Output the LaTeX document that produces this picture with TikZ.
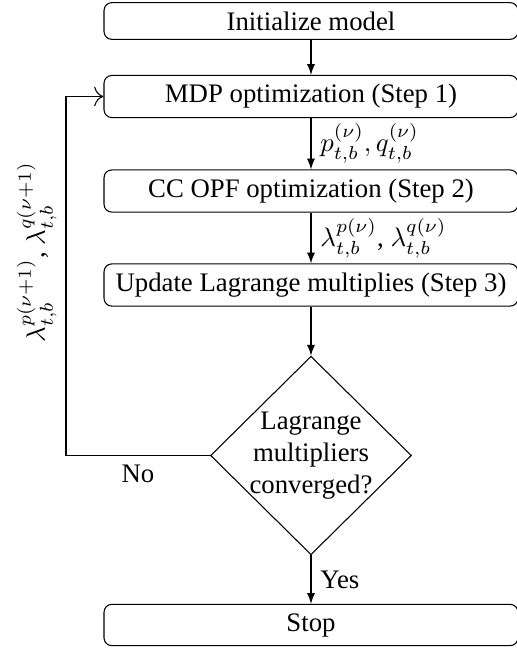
\documentclass[tikz,border=0pt]{standalone}
\usepackage{fontspec}
\setmainfont{Liberation Serif}
\usetikzlibrary{arrows, arrows.meta, shapes.geometric}

\begin{document}
\begin{tikzpicture}[x=0.3737pt, y=-0.3737pt]
        \tikzset{stepbox/.style={draw, rounded corners=2.9pt, minimum width=154.7pt},
            check/.style={draw, diamond, aspect=1, align=center, inner sep=-1.1pt, minimum width=75.1pt},
            flow/.style={-latex}}

        \useasboundingbox (0, 0) rectangle (517, 649);

        \node[stepbox] (init) at (311, 21) {Initialize model};
        \node[stepbox] (mdp) at (311, 96.5) {MDP optimization (Step 1)};
        \node[stepbox] (opf) at (311, 191) {CC OPF optimization (Step 2)};
        \node[stepbox] (upd) at (311, 285) {Update Lagrange multiplies (Step 3)};
        \node[check] (conv) at (311, 455.5) {Lagrange\\multipliers\\converged?};
        \node[stepbox] (stop) at (311, 625) {Stop};
        \coordinate (back) at (66, 455.5);

        \foreach \from/\to in {init/mdp, upd/conv}
            \draw[flow] (\from) -- (\to);

        \draw[flow] (mdp) -- node[right] {$p_{t,b}^{(\nu)},q_{t,b}^{(\nu)}$} (opf);
        \draw[flow] (opf) -- node[right] {$\lambda_{t,b}^{p(\nu)}$, $\lambda_{t,b}^{q(\nu)}$} (upd);
        \draw[flow] (conv) -- node[right] {Yes} (stop);

        \draw[-{To[scale=1.4]}] (conv.west) -- node[below] {No} (back)
            |- node[pos=0.283, above, rotate=90] {$\lambda_{t,b}^{p(\nu+1)}$, $\lambda_{t,b}^{q(\nu+1)}$} (mdp.west);
    \end{tikzpicture}
\end{document}
